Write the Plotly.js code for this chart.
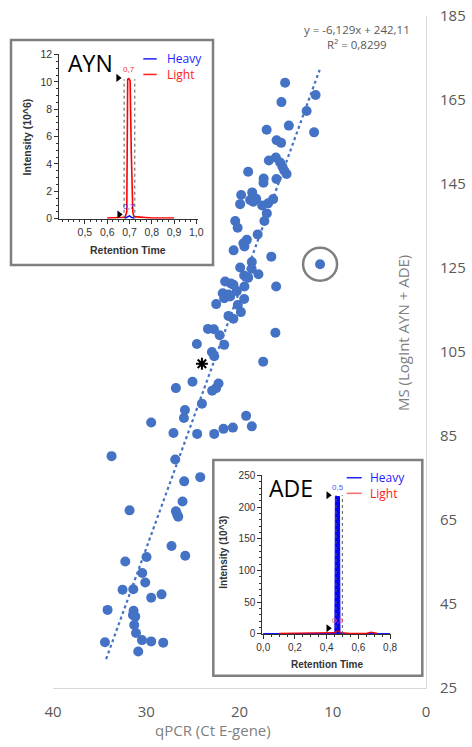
<!DOCTYPE html>
<html>
<head>
<meta charset="utf-8">
<script src="https://cdn.plot.ly/plotly-3.0.1.min.js"></script>
<style>html,body{margin:0;padding:0;background:#fff;}#chart{width:472px;height:747px;}</style>
</head>
<body>
<div id="chart"></div>
<script>
// ---- main scatter data (qPCR Ct vs MS log intensity) ----
const ctValues = [15.11,11.84,15.50,12.80,14.71,17.09,12.00,16.02,15.54,16.85,
  16.10,15.64,15.40,15.21,14.95,19.07,17.41,17.43,16.04,18.64,
  19.82,19.93,18.86,18.21,18.54,17.57,16.93,16.39,17.07,17.33,
  20.46,20.20,18.05,19.21,19.58,19.47,20.63,16.59,18.68,19.93,
  18.70,17.97,11.36,19.50,19.07,21.54,20.93,20.65,19.47,16.07,
  20.28,21.80,21.18,21.64,21.00,19.50,22.50,20.18,19.85,21.18,
  20.66,16.15,23.38,22.75,22.13,24.57,21.64,22.96,22.71,17.46,
  26.82,25.04,22.25,22.50,22.93,24.03,25.85,25.96,29.47,19.29,
  18.68,20.71,21.72,22.71,24.54,27.08,33.72,26.89,25.93,24.21,
  31.79,26.11,26.82,26.71,26.57,27.29,25.82,32.25,29.97,30.43,
  30.11,32.54,31.39,29.47,28.36,34.15,31.36,31.43,31.18,31.29,
  31.10,34.43,30.46,29.47,28.18,30.86];
const msValues = [169.1,166.2,164.5,162.4,158.9,157.9,157.3,155.4,154.8,150.6,
  151.3,150.1,149.1,148.2,147.4,147.9,146.3,145.3,146.2,143.0,
  142.4,140.2,141.2,141.5,140.8,139.9,140.4,141.4,138.0,136.2,
  136.2,134.6,133.0,131.7,130.9,130.1,129.2,127.7,126.4,125.1,
  124.8,123.5,125.9,123.2,122.7,121.8,121.3,121.0,120.6,120.6,
  119.5,119.0,118.7,117.8,118.2,117.6,116.4,116.2,114.5,113.6,
  112.9,109.6,110.5,110.4,109.0,106.9,106.7,105.0,104.0,102.7,
  96.4,97.9,97.5,96.4,95.8,92.7,91.2,89.3,88.2,89.8,
  87.3,87.0,86.7,85.5,85.5,85.7,80.2,79.4,74.2,75.2,
  67.3,69.4,67.1,66.4,65.8,58.8,56.5,55.1,56.2,52.4,
  50.1,48.4,48.5,46.5,47.3,43.6,43.4,42.4,42.0,40.0,
  38.1,35.9,36.4,36.1,35.8,33.7];
const circledIndex = 42;
const starCt = [24.03];
const starMs = [102.2];
const trendCt = [34.3, 11.4];
const trendMs = [31.9, 172.2];
const trendLabel = "y = -6,129x + 242,11<br>R² = 0,8299";
const xTicks = [40, 30, 20, 10, 0];
const yTicks = [25, 45, 65, 85, 105, 125, 145, 165, 185];
const legendNames = ["Heavy", "Light"];

// ---- AYN inset chromatogram ----
const aynRt = [0.6,0.65,0.68,0.688,0.692,0.697,0.703,0.708,0.715,0.72,0.75,0.8,0.9];
const aynLight = [0.05,0.05,0.1,0.5,10.2,10.25,10.1,5,0.5,0.15,0.1,0.05,0.05];
const aynHeavyRt = [0.68,0.69,0.7,0.71,0.72];
const aynHeavy = [0.02,0.1,0.2,0.1,0.02];
const aynTriRt = [0.649, 0.654];
const aynTriInt = [10.3, 0.3];
const aynBounds = [0.676, 0.724];
const aynBoundTop = 10.2;
const aynXTicks = [0.5,0.6,0.7,0.8,0.9,1.0];
const aynYTicks = [0,2,4,6,8,10,12];

// ---- ADE inset chromatogram ----
const adeRt = [0.0,0.44,0.452,0.455,0.46,0.47,0.478,0.481,0.484,0.5,0.8];
const adeHeavy = [0.5,0.5,1,217,217,216,217,217,1,0.5,0.5];
const adeLightRt = [0.1,0.2,0.3,0.4,0.45,0.47,0.49,0.55,0.65,0.68,0.7,0.72];
const adeLight = [1,1,1,1,2,5,2,1,1,3,2,1];
const adeTriRt = [0.41, 0.41];
const adeTriInt = [219, 9];
const adeBounds = [0.459, 0.499];
const adeBoundTop = 219;
const adeXTicks = [0.0,0.2,0.4,0.6,0.8];
const adeYTicks = [0,50,100,150,200,250];

const BLUE = '#4472C4';
const GRAY = '#595959';
const HBLUE = '#1f1fff';
const LRED = '#ff1a1a';
const tickF = {family:'Open Sans, sans-serif', size:15, color:GRAY};
const insF = {family:'Liberation Sans, Arial, sans-serif', size:10.5, color:'#333'};

const traces = [
  {x: trendCt, y: trendMs, mode:'lines', line:{color:BLUE, width:2.2, dash:'dot'}, hoverinfo:'skip'},
  {x: ctValues, y: msValues, mode:'markers', marker:{color:BLUE, size:10}},
  {x: starCt, y: starMs, mode:'markers', marker:{symbol:'asterisk-open', size:10, color:'#000', line:{color:'#000', width:2}}},
  // AYN inset
  {x: aynRt, y: aynLight, xaxis:'x2', yaxis:'y2', mode:'lines', line:{color:'#ff0000', width:1.6}},
  {x: aynHeavyRt, y: aynHeavy, xaxis:'x2', yaxis:'y2', mode:'lines', line:{color:'#0000ff', width:1.5}},
  {x: aynTriRt, y: aynTriInt, xaxis:'x2', yaxis:'y2', mode:'markers', marker:{symbol:'triangle-right', size:7, color:'#000'}},
  // ADE inset
  {x: adeRt, y: adeHeavy, xaxis:'x3', yaxis:'y3', mode:'lines', fill:'tozeroy', fillcolor:'#0000ff', line:{color:'#0000ff', width:1}},
  {x: adeLightRt, y: adeLight, xaxis:'x3', yaxis:'y3', mode:'lines', line:{color:'#ff0000', width:1.2}},
  {x: adeTriRt, y: adeTriInt, xaxis:'x3', yaxis:'y3', mode:'markers', marker:{symbol:'triangle-right', size:7, color:'#000'}}
];

function linspace(a, b, step){ const out=[]; for(let v=a; v<=b+1e-9; v+=step) out.push(+v.toFixed(4)); return out; }

const shapes = [
  {type:'rect', xref:'paper', yref:'paper', x0:-0.1126, x1:0.4290, y0:0.6295, y1:0.9643, layer:'below', fillcolor:'#fff', line:{color:'#7f7f7f', width:2.5}},
  {type:'rect', xref:'paper', yref:'paper', x0:0.4298, x1:0.9901, y0:0.0183, y1:0.3393, layer:'below', fillcolor:'#fff', line:{color:'#7f7f7f', width:2.5}},
  {type:'circle', xref:'x', yref:'y', xsizemode:'pixel', ysizemode:'pixel', xanchor:ctValues[circledIndex], yanchor:msValues[circledIndex], x0:-17, x1:17, y0:-16.5, y1:16.5, line:{color:'#7f7f7f', width:2.5}},
  // boundaries
  {type:'line', xref:'x2', yref:'y2', x0:aynBounds[0], x1:aynBounds[0], y0:0, y1:aynBoundTop, line:{color:'#555', width:1, dash:'dot'}},
  {type:'line', xref:'x2', yref:'y2', x0:aynBounds[1], x1:aynBounds[1], y0:0, y1:aynBoundTop, line:{color:'#555', width:1, dash:'dot'}},
  {type:'line', xref:'x3', yref:'y3', x0:adeBounds[0], x1:adeBounds[0], y0:0, y1:adeBoundTop, line:{color:'#555', width:1, dash:'dot'}},
  {type:'line', xref:'x3', yref:'y3', x0:adeBounds[1], x1:adeBounds[1], y0:0, y1:adeBoundTop, line:{color:'#555', width:1, dash:'dot'}},
  // legend lines
  {type:'line', xref:'paper', yref:'paper', x0:0.2421, x1:0.2780, y0:0.9362, y1:0.9362, line:{color:HBLUE, width:1.5}},
  {type:'line', xref:'paper', yref:'paper', x0:0.2421, x1:0.2780, y0:0.9130, y1:0.9130, line:{color:LRED, width:1.5}},
  {type:'line', xref:'paper', yref:'paper', x0:0.7874, x1:0.8276, y0:0.3129, y1:0.3129, line:{color:HBLUE, width:1.5}},
  {type:'line', xref:'paper', yref:'paper', x0:0.7874, x1:0.8276, y0:0.2897, y1:0.2897, line:{color:'#ff6a6a', width:1.5}}
];

const legText = `<span style="color:${HBLUE}">${legendNames[0]}</span><br><span style="color:${LRED}">${legendNames[1]}</span>`;
const legF = {family:'Open Sans, sans-serif', size:12, color:HBLUE};
const A = (o) => Object.assign({showarrow:false, xanchor:'center', yanchor:'middle'}, o);
const annotations = [
  A({xref:'paper', yref:'paper', x:0.815, y:0.969, text:trendLabel, font:{family:'Open Sans, sans-serif', size:11.5, color:GRAY}, align:'center'}),
  A({xref:'paper', yref:'paper', x:0.429, y:-0.0625, text:'qPCR (Ct E-gene)', font:{family:'Open Sans, sans-serif', size:15, color:'#7f7f7f'}}),
  A({xref:'paper', yref:'paper', x:0.938, y:0.528, text:'MS (LogInt AYN + ADE)', textangle:-90, font:{family:'Open Sans, sans-serif', size:15, color:'#7f7f7f'}}),
  // AYN
  A({xref:'paper', yref:'paper', x:0.0992, y:0.9308, text:'AYN', font:{family:'Open Sans, sans-serif', size:23, color:'#000'}}),
  A({xref:'paper', yref:'paper', x:0.3021, y:0.9246, xanchor:'left', align:'left', text:legText, font:legF, borderpad:0}),
  A({xref:'paper', yref:'paper', x:0.2011, y:0.6518, text:'<b>Retention Time</b>', font:{family:'Liberation Sans, Arial, sans-serif', size:10.5, color:'#333'}}),
  A({xref:'paper', yref:'paper', x:-0.0705, y:0.8204, text:'<b>Intensity (10^6)</b>', textangle:-90, font:{family:'Liberation Sans, Arial, sans-serif', size:10.5, color:'#333'}}),
  A({xref:'x2', yref:'y2', x:0.697, y:10.9, text:'0,7', font:{family:'Liberation Sans, Arial, sans-serif', size:8, color:'#ff3030'}}),
  A({xref:'x2', yref:'y2', x:0.700, y:0.9, text:'0,7', font:{family:'Liberation Sans, Arial, sans-serif', size:8, color:'#3030ff'}}),
  // ADE
  A({xref:'paper', yref:'paper', x:0.6381, y:0.2972, text:'ADE', font:{family:'Open Sans, sans-serif', size:23, color:'#000'}}),
  A({xref:'paper', yref:'paper', x:0.848, y:0.3013, xanchor:'left', align:'left', text:legText, font:legF, borderpad:0}),
  A({xref:'paper', yref:'paper', x:0.7338, y:0.0353, text:'<b>Retention Time</b>', font:{family:'Liberation Sans, Arial, sans-serif', size:10, color:'#333'}}),
  A({xref:'paper', yref:'paper', x:0.4584, y:0.2028, text:'<b>Intensity (10^3)</b>', textangle:-90, font:{family:'Liberation Sans, Arial, sans-serif', size:10, color:'#333'}}),
  A({xref:'x3', yref:'y3', x:0.474, y:232, text:'0,5', font:{family:'Liberation Sans, Arial, sans-serif', size:8, color:'#5050ff'}}),
  A({xref:'x3', yref:'y3', x:0.474, y:22, text:'0,5', font:{family:'Liberation Sans, Arial, sans-serif', size:8, color:'#ff5050'}})
];

const insetAxis = (extra) => Object.assign({
  showline:true, linecolor:'#333', linewidth:1, ticks:'outside', ticklen:4, tickcolor:'#333',
  tickfont:insF, showgrid:false, zeroline:false, fixedrange:true
}, extra);

const layout = {
  width:472, height:747,
  margin:{l:53, r:46, t:16, b:59, pad:0},
  paper_bgcolor:'#fff', plot_bgcolor:'rgba(0,0,0,0)',
  showlegend:false, separators:',.',
  xaxis:{domain:[0,1], range:[40,0], showline:true, linecolor:'#d9d9d9', linewidth:1, ticks:'',
    tickmode:'array', tickvals:xTicks, tickfont:tickF, showgrid:false, zeroline:false, ticklabelstandoff:10},
  yaxis:{domain:[0,1], range:[25,185], side:'right', showline:true, linecolor:'#d9d9d9', linewidth:1, ticks:'',
    tickmode:'array', tickvals:yTicks, tickfont:tickF, showgrid:false, zeroline:false, ticklabelstandoff:10},
  xaxis2: insetAxis({domain:[0.0169,0.3877], anchor:'y2', range:[0.385,1.006], tickmode:'array', tickvals:aynXTicks, tickformat:'.1f',
    minor:{tickmode:'array', tickvals:linspace(0.4,1.0,0.025), ticks:'outside', ticklen:2.5, tickcolor:'#333'}}),
  yaxis2: insetAxis({domain:[0.6984,0.9435], anchor:'x2', range:[0,12.05], tickmode:'array', tickvals:aynYTicks,
    minor:{tickmode:'array', tickvals:linspace(0,12,0.5), ticks:'outside', ticklen:2.5, tickcolor:'#333'}}),
  xaxis3: insetAxis({domain:[0.5611,0.9062], anchor:'y3', range:[-0.006,0.806], tickmode:'array', tickvals:adeXTicks, tickformat:'.1f',
    tickfont:{family:'Liberation Sans, Arial, sans-serif', size:10, color:'#333'},
    minor:{tickmode:'array', tickvals:linspace(0,0.8,0.05), ticks:'outside', ticklen:2.5, tickcolor:'#333'}}),
  yaxis3: insetAxis({domain:[0.0804,0.317], anchor:'x3', range:[0,251], tickmode:'array', tickvals:adeYTicks,
    tickfont:{family:'Liberation Sans, Arial, sans-serif', size:10, color:'#333'},
    minor:{tickmode:'array', tickvals:linspace(0,250,10), ticks:'outside', ticklen:2.5, tickcolor:'#333'}}),
  shapes:shapes,
  annotations:annotations
};

Plotly.newPlot('chart', traces, layout, {staticPlot:true, displayModeBar:false});
</script>
</body>
</html>
